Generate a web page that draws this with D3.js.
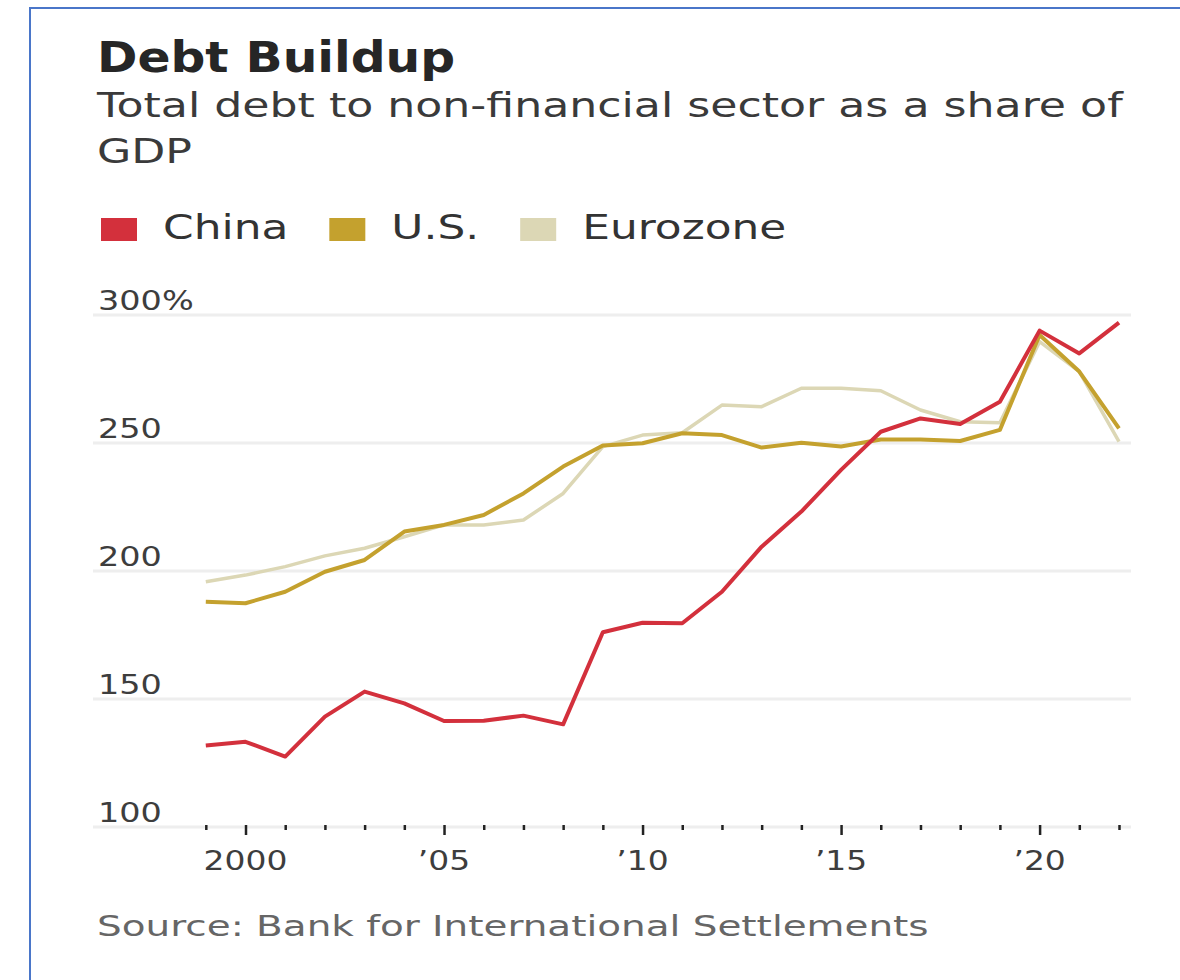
<!DOCTYPE html>
<html>
<head>
<meta charset="utf-8">
<script src="https://cdn.jsdelivr.net/npm/d3@7"></script>
<style>
  html, body { margin: 0; padding: 0; background: #fff; }
  svg { display: block; }
  text { font-family: "DejaVu Sans", sans-serif; }
</style>
</head>
<body>
<svg id="chart" width="1180" height="980"></svg>
<script>
// Total debt to the non-financial sector, % of GDP (BIS), 1999–2022
const years = d3.range(1999, 2023);

const china = [131.8, 133.3, 127.5, 143.1, 152.9, 148.3, 141.4, 141.5, 143.5, 140.1,
               176.1, 179.8, 179.6, 191.9, 209.5, 223.2, 239.5, 254.4, 259.6, 257.4,
               266.1, 293.9, 285.0, 297.0];
const us = [188.0, 187.4, 191.9, 199.7, 204.3, 215.4, 218.0, 221.9, 230.3, 240.8,
            249.0, 249.9, 253.8, 253.1, 248.2, 250.1, 248.6, 251.4, 251.4, 250.8,
            255.1, 292.2, 277.9, 255.7];
const eurozone = [195.8, 198.4, 201.7, 205.9, 208.9, 213.4, 218.0, 218.0, 219.9, 230.3,
                  248.6, 253.1, 254.0, 264.8, 264.2, 271.4, 271.4, 270.4, 262.9, 258.3,
                  257.9, 289.6, 277.9, 250.5];

const seriesNames = ["China", "U.S.", "Eurozone"];
const seriesColors = ["#d3303c", "#c4a12e", "#dcd7b5"];

const yTicks = [100, 150, 200, 250, 300];
const yTickLabels = ["100", "150", "200", "250", "300%"];
const xMajorYears = [2000, 2005, 2010, 2015, 2020];
const xTickLabels = ["2000", "\u201905", "\u201910", "\u201915", "\u201920"];

const titleText = "Debt Buildup";
const subtitleLines = ["Total debt to non-financial sector as a share of", "GDP"];
const sourceText = "Source: Bank for International Settlements";

const svg = d3.select("#chart");

// frame
svg.append("rect")
  .attr("x", 30).attr("y", 8)
  .attr("width", 1300).attr("height", 1100)
  .attr("fill", "none")
  .attr("stroke", "#4a76c9")
  .attr("stroke-width", 2);

// wide-set text helper: horizontally stretched glyphs
function label(g, str, x, y, size, sx, opts = {}) {
  const t = g.append("text")
    .attr("transform", `translate(${x},${y}) scale(${sx},1)`)
    .attr("font-size", size)
    .attr("fill", opts.fill || "#333")
    .attr("font-weight", opts.weight || "normal")
    .attr("text-anchor", opts.anchor || "start")
    .text(str);
  return t;
}

// headings
label(svg, titleText, 97, 72, 42, 1.16, { weight: "bold", fill: "#262626" });
subtitleLines.forEach((s, i) => label(svg, s, 97, 117 + i * 46, 34, 1.3, { fill: "#3a3a3a" }));

// legend
const legend = svg.append("g");
const legendSx = 1.33;
let lx = 101;
seriesNames.forEach((name, i) => {
  legend.append("rect")
    .attr("x", lx).attr("y", 218)
    .attr("width", 36).attr("height", 23)
    .attr("fill", seriesColors[i]);
  const t = label(legend, name, lx + 62, 239, 33, legendSx, { fill: "#333" });
  const w = t.node().getComputedTextLength() * legendSx;
  lx = lx + 62 + w + 41;
});

// scales
const x = d3.scaleLinear().domain([1999, 2022]).range([205.8, 1119]);
const y = d3.scaleLinear().domain([100, 300]).range([827, 315]);

// horizontal gridlines + y labels
const grid = svg.append("g");
grid.selectAll("line")
  .data(yTicks)
  .join("line")
  .attr("x1", 93).attr("x2", 1131)
  .attr("y1", d => y(d)).attr("y2", d => y(d))
  .attr("stroke", "#eeeeee")
  .attr("stroke-width", 3);

yTicks.forEach((v, i) => {
  label(grid, yTickLabels[i], 98, y(v) - 5, 27, 1.24, { fill: "#3d3d3d" });
});

// x axis ticks (bottom)
const xAxis = d3.axisBottom(x)
  .tickValues(years)
  .tickSize(0)
  .tickFormat("");
const axisG = svg.append("g")
  .attr("transform", `translate(0,${y(100) - 2})`)
  .call(xAxis);
axisG.select(".domain").remove();
axisG.selectAll(".tick line").remove();
axisG.selectAll(".tick").append("line")
  .attr("y1", 0)
  .attr("y2", d => xMajorYears.includes(d) ? 10 : 5)
  .attr("stroke", "#222")
  .attr("stroke-width", 2.5);

xMajorYears.forEach((yr, i) => {
  label(svg, xTickLabels[i], x(yr), 870, 27, 1.22, { fill: "#3d3d3d", anchor: "middle" });
});

// series lines
const line = d3.line()
  .x((d, i) => x(years[i]))
  .y(d => y(d));

const series = [
  { values: eurozone, color: seriesColors[2], width: 3.5 },
  { values: us, color: seriesColors[1], width: 4 },
  { values: china, color: seriesColors[0], width: 4 }
];
svg.append("g").selectAll("path")
  .data(series)
  .join("path")
  .attr("d", d => line(d.values))
  .attr("fill", "none")
  .attr("stroke", d => d.color)
  .attr("stroke-width", d => d.width)
  .attr("stroke-linejoin", "round");

// source note
label(svg, sourceText, 97, 936, 28, 1.39, { fill: "#666" });
</script>
</body>
</html>
